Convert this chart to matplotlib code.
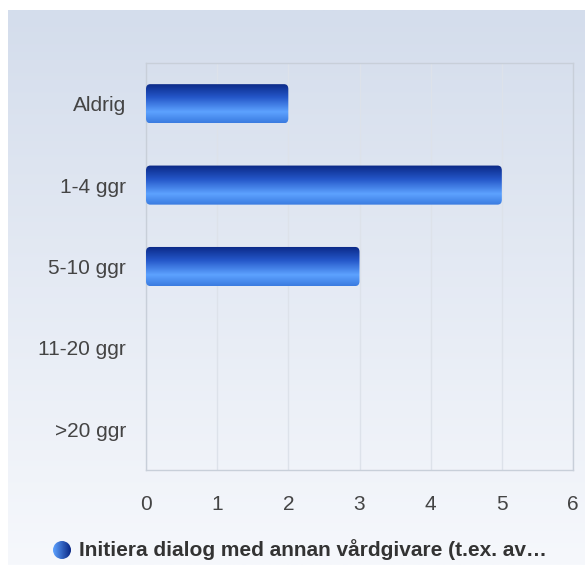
import numpy as np
import matplotlib
matplotlib.use("Agg")
import matplotlib.pyplot as plt
from matplotlib.patches import FancyBboxPatch, Circle
from matplotlib.colors import LinearSegmentedColormap

categories = ["Aldrig", "1-4 ggr", "5-10 ggr", "11-20 ggr", ">20 ggr"]
values = [2, 5, 3, 0, 0]
xticks = [0, 1, 2, 3, 4, 5, 6]
legend_label = "Initiera dialog med annan vårdgivare (t.ex. av…"

plt.rcParams['font.family'] = ['Liberation Sans', 'DejaVu Sans']

W, H = 585, 565
fig = plt.figure(figsize=(W/100, H/100), dpi=100)
fig.patch.set_facecolor('white')

# background gradient panel
bg = fig.add_axes([8/W, 0, 1 - 8/W, (H - 10)/H])
bg.set_axis_off()
grad = np.linspace(0, 1, 256).reshape(-1, 1)
bg_cmap = LinearSegmentedColormap.from_list('bg', ['#d4ddec', '#f6f8fc'])
bg.imshow(grad, aspect='auto', cmap=bg_cmap, extent=[0, 1, 0, 1], origin='upper')
bg.set_xlim(0, 1); bg.set_ylim(0, 1)

# main axes
x0, x1 = 146, 573
y0, y1 = 63, 470
ax = fig.add_axes([x0/W, 1 - y1/H, (x1 - x0)/W, (y1 - y0)/H])
ax.patch.set_alpha(0)
ax.set_xlim(0, 6)
n = len(categories)
ax.set_ylim(n - 0.5, -0.5)
ax.set_yticks(range(n))
ax.set_yticklabels(categories)
ax.set_xticks(xticks)
ax.set_xticklabels([str(t) for t in xticks])
ax.tick_params(axis='both', length=0, labelsize=15, colors='#444444')
ax.tick_params(axis='x', pad=18)
ax.tick_params(axis='y', pad=14.5)
ax.grid(axis='x', color='#dde2ea', linewidth=1)
ax.set_axisbelow(True)
for s in ax.spines.values():
    s.set_color('#c8cfd9')
    s.set_linewidth(1)

bar_cmap = LinearSegmentedColormap.from_list(
    'bar', [(0.0, '#0a2784'), (0.35, '#2456c8'), (0.72, '#5da2ff'), (1.0, '#3a7be0')])
bh = 0.48
for i, v in enumerate(values):
    if v <= 0:
        continue
    patch = FancyBboxPatch((0, i - bh/2), v, bh,
                           boxstyle="round,pad=0,rounding_size=0.06",
                           mutation_aspect=1.0, linewidth=0, facecolor='none')
    ax.add_patch(patch)
    im = ax.imshow(grad, aspect='auto', cmap=bar_cmap,
                   extent=[0, v, i + bh/2, i - bh/2], origin='upper', zorder=3)
    im.set_clip_path(patch)
ax.set_xlim(0, 6)
ax.set_ylim(n - 0.5, -0.5)

# legend
lg = fig.add_axes([0, 0, 1, 1])
lg.set_axis_off()
lg.set_xlim(0, W); lg.set_ylim(H, 0)
circ_cmap = LinearSegmentedColormap.from_list('c', ['#0a2784', '#5da2ff'])
c = Circle((62, 550), 9, facecolor='none', edgecolor='none')
lg.add_patch(c)
cim = lg.imshow(np.linspace(0, 1, 64).reshape(1, -1), aspect='auto', cmap=circ_cmap.reversed(),
                extent=[53, 71, 559, 541], zorder=3)
cim.set_clip_path(c)
lg.text(79, 550, legend_label, fontsize=15, fontweight='bold', color='#333333',
        va='center', ha='left')
lg.set_xlim(0, W); lg.set_ylim(H, 0)

fig.savefig('out.png', dpi=100)
